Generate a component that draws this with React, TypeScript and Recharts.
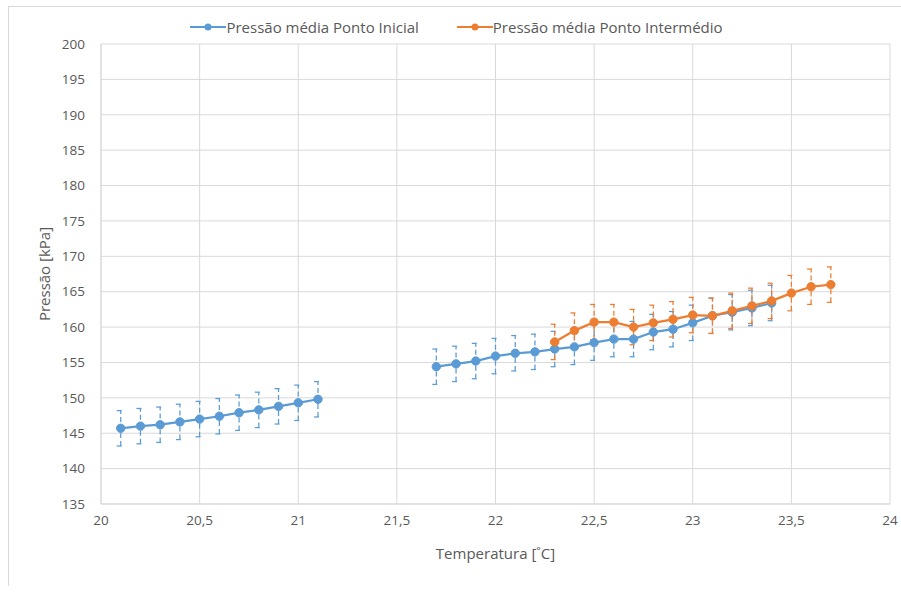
import {
  LineChart,
  XAxis,
  YAxis,
  CartesianGrid,
  Legend,
  Line,
  ErrorBar,
} from "recharts";

// Ponto Inicial, first block of readings
const tempInicialA = [20.1, 20.2, 20.3, 20.4, 20.5, 20.6, 20.7, 20.8, 20.9, 21.0, 21.1];
const pressInicialA = [145.7, 146.0, 146.2, 146.6, 147.0, 147.4, 147.9, 148.3, 148.8, 149.3, 149.8];
const errInicialA = [2.5, 2.5, 2.5, 2.5, 2.5, 2.5, 2.5, 2.5, 2.5, 2.5, 2.5];

// Ponto Inicial, second block of readings
const tempInicialB = [
  21.7, 21.8, 21.9, 22.0, 22.1, 22.2, 22.3, 22.4, 22.5, 22.6, 22.7, 22.8, 22.9, 23.0, 23.1, 23.2, 23.3, 23.4,
];
const pressInicialB = [
  154.4, 154.8, 155.2, 155.9, 156.3, 156.5, 156.9, 157.2, 157.8, 158.3, 158.3, 159.3, 159.7, 160.6, 161.6,
  162.1, 162.7, 163.4,
];
const errInicialB = [2.5, 2.5, 2.5, 2.5, 2.5, 2.5, 2.5, 2.5, 2.5, 2.5, 2.5, 2.5, 2.5, 2.5, 2.5, 2.5, 2.5, 2.5];

// Ponto Intermédio
const tempIntermedio = [22.3, 22.4, 22.5, 22.6, 22.7, 22.8, 22.9, 23.0, 23.1, 23.2, 23.3, 23.4, 23.5, 23.6, 23.7];
const pressIntermedio = [
  157.9, 159.5, 160.7, 160.7, 160.0, 160.6, 161.1, 161.7, 161.6, 162.3, 163.0, 163.7, 164.8, 165.7, 166.0,
];
const errIntermedio = [2.5, 2.5, 2.5, 2.5, 2.5, 2.5, 2.5, 2.5, 2.5, 2.5, 2.5, 2.5, 2.5, 2.5, 2.5];

const xTicks = [20, 20.5, 21, 21.5, 22, 22.5, 23, 23.5, 24];
const yTicks = [135, 140, 145, 150, 155, 160, 165, 170, 175, 180, 185, 190, 195, 200];

const seriesNames = ["Pressão média Ponto Inicial", "Pressão média Ponto Intermédio"];
const seriesColors = ["#5b9bd5", "#ed7d31"];

const toRows = (t: number[], p: number[], e: number[]) =>
  t.map((x, i) => ({ t: x, p: p[i], e: e[i] }));

const inicialA = toRows(tempInicialA, pressInicialA, errInicialA);
const inicialB = toRows(tempInicialB, pressInicialB, errInicialB);
const intermedio = toRows(tempIntermedio, pressIntermedio, errIntermedio);

const font = "'Open Sans', sans-serif";
const textColor = "#595959";
const gridColor = "#d9d9d9";

const LegendContent = () => (
  <div
    style={{
      height: 26,
      display: "flex",
      justifyContent: "center",
      alignItems: "flex-start",
      gap: 38,
      fontFamily: font,
      fontSize: 15,
      lineHeight: "18px",
      color: textColor,
      paddingLeft: 14,
    }}
  >
    {seriesNames.map((name, i) => (
      <div key={name} style={{ display: "flex", alignItems: "center" }}>
        <svg width={36} height={10}>
          <line x1={0} y1={5} x2={36} y2={5} stroke={seriesColors[i]} strokeWidth={2} />
          <circle cx={18} cy={5} r={3.5} fill={seriesColors[i]} />
        </svg>
        <span>{name}</span>
      </div>
    ))}
  </div>
);

const dotFor = (c: string) => ({ r: 4.2, fill: c, stroke: c, strokeWidth: 1 });

export default function App() {
  return (
    <div
      style={{
        width: 893,
        height: 580,
        margin: "6px 0 0 8px",
        borderTop: `1px solid ${gridColor}`,
        borderLeft: `1px solid ${gridColor}`,
        boxSizing: "border-box",
        background: "#fff",
      }}
    >
      <style>{"html,body{margin:0;overflow:hidden}"}</style>
      <LineChart width={892} height={579} margin={{ top: 11, right: 11, bottom: 0, left: 0 }}>
        <CartesianGrid stroke={gridColor} strokeWidth={1} />
        <XAxis
          type="number"
          dataKey="t"
          domain={[20, 24]}
          ticks={xTicks}
          allowDataOverflow
          height={82}
          tickLine={false}
          tickSize={5}
          tickMargin={6}
          axisLine={{ stroke: gridColor }}
          tick={{ fill: textColor, fontSize: 13.5, fontFamily: font }}
          tickFormatter={(v: number) => String(v).replace(".", ",")}
          label={{
            value: "Temperatura [˚C]",
            position: "insideBottom",
            offset: 27,
            fill: textColor,
            fontSize: 15,
            fontFamily: font,
          }}
        />
        <YAxis
          type="number"
          domain={[135, 200]}
          ticks={yTicks}
          allowDataOverflow
          width={92}
          tickLine={false}
          tickSize={8}
          tickMargin={8}
          axisLine={{ stroke: gridColor }}
          tick={{ fill: textColor, fontSize: 13.5, fontFamily: font }}
          label={{
            value: "Pressão [kPa]",
            angle: -90,
            position: "insideLeft",
            offset: 36,
            fill: textColor,
            fontSize: 15,
            fontFamily: font,
            style: { textAnchor: "middle" },
          }}
        />
        <Legend verticalAlign="top" align="center" content={<LegendContent />} />
        <Line
          data={inicialA}
          dataKey="p"
          name={seriesNames[0]}
          stroke={seriesColors[0]}
          strokeWidth={2.25}
          dot={dotFor(seriesColors[0])}
          activeDot={false}
          isAnimationActive={false}
        >
          <ErrorBar dataKey="e" width={4} stroke={seriesColors[0]} strokeWidth={1.25} strokeDasharray="5 3" />
        </Line>
        <Line
          data={inicialB}
          dataKey="p"
          name={seriesNames[0] + " "}
          legendType="none"
          stroke={seriesColors[0]}
          strokeWidth={2.25}
          dot={dotFor(seriesColors[0])}
          activeDot={false}
          isAnimationActive={false}
        >
          <ErrorBar dataKey="e" width={4} stroke={seriesColors[0]} strokeWidth={1.25} strokeDasharray="5 3" />
        </Line>
        <Line
          data={intermedio}
          dataKey="p"
          name={seriesNames[1]}
          stroke={seriesColors[1]}
          strokeWidth={2.25}
          dot={dotFor(seriesColors[1])}
          activeDot={false}
          isAnimationActive={false}
        >
          <ErrorBar dataKey="e" width={4} stroke={seriesColors[1]} strokeWidth={1.25} strokeDasharray="5 3" />
        </Line>
      </LineChart>
    </div>
  );
}
